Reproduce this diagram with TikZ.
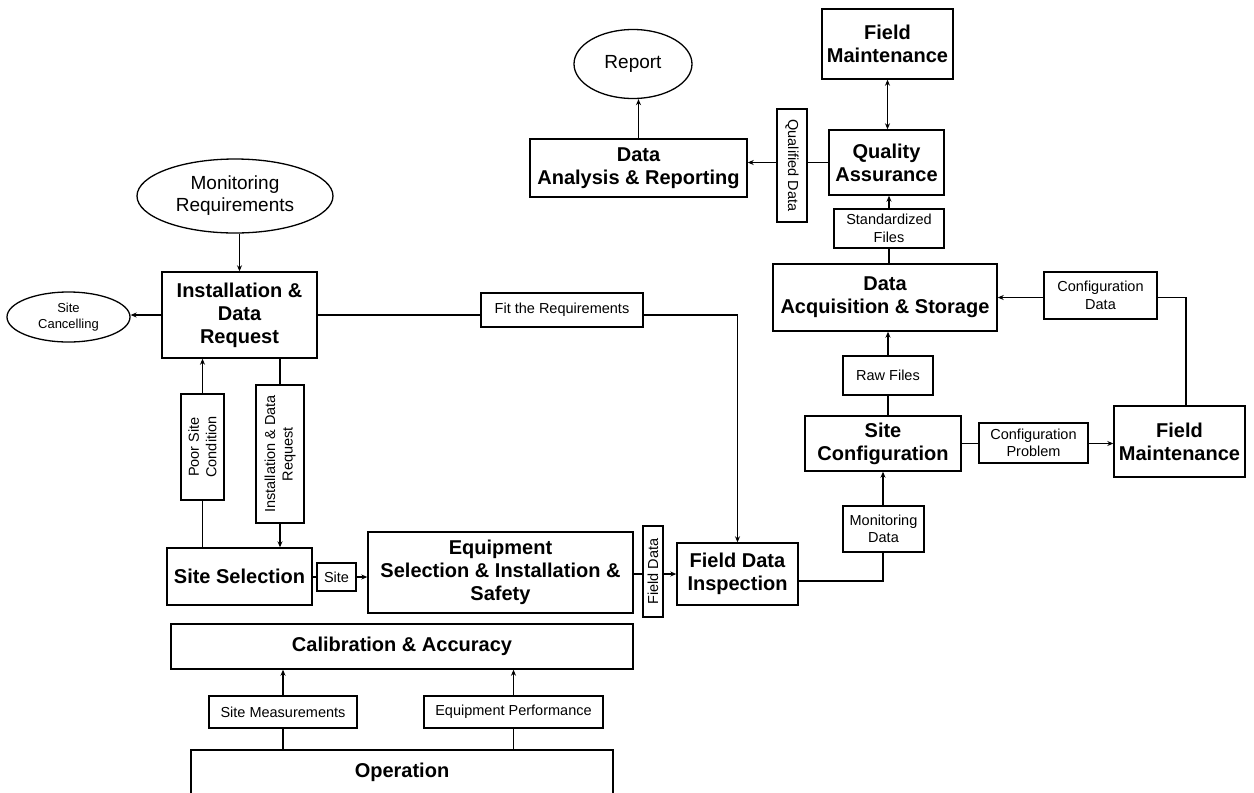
\documentclass[tikz,border=0pt]{standalone}
\usepackage{fontspec}
\setmainfont{Liberation Sans}
\usetikzlibrary{arrows.meta,shapes.geometric,backgrounds}
\begin{document}
\begin{tikzpicture}[x=1pt,y=-1pt,
 sz/.style 2 args={minimum width=#1pt,minimum height=#2pt},
 box/.style={draw,fill=white,line width=1.4pt,align=center,inner sep=1pt,font=\fontsize{20}{23}\selectfont\bfseries},
 lbl/.style={draw,fill=white,line width=1.3pt,align=center,inner sep=1pt,font=\fontsize{14.5}{17.5}\selectfont},
 oval/.style={draw,fill=white,ellipse,line width=1.3pt,align=center,inner sep=0pt,font=\fontsize{19}{22}\selectfont},
 conn/.style={line width=1.4pt},
 arr/.style={conn,-{Stealth[length=6pt,width=5pt]}},
 darr/.style={conn,{Stealth[length=6pt,width=5pt]}-{Stealth[length=6pt,width=5pt]}}
]
\useasboundingbox (0,0) rectangle (1254,793);
\clip (0,0) rectangle (1254,793);

% nodes
\node[oval,sz={118}{69}] (rep) at (633,64) {Report};
\node[box,sz={131}{70}] (fm1) at (887.5,44) {Field\\Maintenance};
\node[box,sz={115}{65}] (qa) at (886.5,162.5) {Quality\\Assurance};
\node[box,sz={217}{58}] (dar) at (638.5,168) {Data\\Analysis \& Reporting};
\node[lbl,sz={113}{30},rotate=-90] (qd) at (792,165.5) {Qualified Data};
\node[lbl,sz={110}{39}] (sf) at (889,228.5) {Standardized\\Files};
\node[box,sz={224}{67}] (das) at (885,297.5) {Data\\Acquisition \& Storage};
\node[lbl,sz={113}{47}] (cd) at (1100.5,295.5) {Configuration\\Data};
\node[lbl,sz={90}{39}] (rf) at (888,375.5) {Raw Files};
\node[box,sz={156}{55}] (sc) at (883,443.5) {Site\\Configuration};
\node[lbl,sz={109}{40}] (cp) at (1033.5,443) {Configuration\\Problem};
\node[box,sz={131}{71}] (fm2) at (1179.5,441.5) {Field\\Maintenance};
\node[lbl,sz={81}{46}] (md) at (883.5,529) {Monitoring\\Data};
\node[box,sz={121}{62}] (fdi) at (737.5,574) {Field Data\\Inspection};
\node[lbl,sz={91}{20},rotate=90] (fd) at (653,571.5) {Field Data};
\node[box,sz={265}{81}] (esi) at (500.5,572.5) {Equipment\\Selection \& Installation \&\\Safety};
\node[lbl,sz={39}{28}] (site) at (336.5,577) {Site};
\node[box,sz={145}{57}] (ss) at (239.5,576.5) {Site Selection};
\node[lbl,sz={106}{43},rotate=90] (psc) at (202.5,447) {Poor Site\\Condition};
\node[lbl,sz={138}{48},rotate=90] (idl) at (280,454) {Installation \& Data\\Request};
\node[box,sz={155}{86}] (idr) at (239.5,315) {Installation \&\\Data\\Request};
\node[oval,sz={196}{74}] (mr) at (235,196) {Monitoring\\Requirements};
\node[oval,sz={123}{50},font=\fontsize{13}{16}\selectfont] (can) at (68.5,317) {Site\\Cancelling};
\node[lbl,sz={162}{34}] (fit) at (562,310) {Fit the Requirements};
\node[box,sz={462}{45}] (cal) at (402,646.5) {Calibration \& Accuracy};
\node[lbl,sz={148}{32}] (sm) at (283,712) {Site Measurements};
\node[lbl,sz={179}{32}] (ep) at (513.5,712) {Equipment Performance};
\node[box,sz={422}{45}] (op) at (402,772.5) {Operation};

% connectors
\begin{scope}[on background layer]
\draw[arr] (dar.north) -- (dar.north |- rep.south);
\draw[darr] (fm1.south) -- (fm1.south |- qa.north);
\draw[arr] (qa.west) -- (qa.west -| dar.east);
\draw[arr] (sf.center |- das.north) -- (sf.center |- qa.south);
\draw[arr] (rf.center |- sc.north) -- (rf.center |- das.south);
\draw[arr] ([xshift=6.5pt]fm2.north) |- (das.east);
\draw[arr] (sc.east) -- (sc.east -| fm2.west);
\draw[arr] ([yshift=-7pt]fdi.east) -| (sc.south);
\draw[arr] (idr.east) -- (idr.east -| fdi.north) -- (fdi.north);
\draw[arr] (idr.north |- mr.south) -- (idr.north);
\draw[arr] (idr.west) -- (idr.west -| can.east);
\draw[arr] (ss.north -| psc.center) -- (idr.south -| psc.center);
\draw[arr] (idr.south -| idl.center) -- (ss.north -| idl.center);
\draw[arr] (ss.east |- site.center) -- (esi.west |- site.center);
\draw[arr] (esi.east |- fdi.west) -- (fdi.west);
\draw[arr] (op.north -| sm.center) -- (cal.south -| sm.center);
\draw[arr] (op.north -| ep.center) -- (cal.south -| ep.center);
\end{scope}
\end{tikzpicture}
\end{document}
